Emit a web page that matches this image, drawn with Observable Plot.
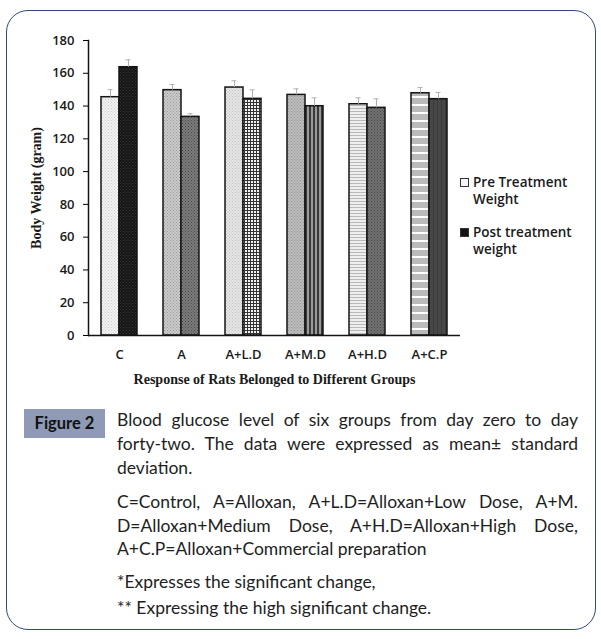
<!DOCTYPE html>
<html>
<head>
<meta charset="utf-8">
<script src="https://cdn.jsdelivr.net/npm/d3@7"></script>
<script src="https://cdn.jsdelivr.net/npm/@observablehq/plot@0.6"></script>
<style>
  html, body { margin: 0; padding: 0; background: #fff; }
  body { width: 601px; height: 639px; position: relative; overflow: hidden; }
  #frame { position: absolute; left: 6px; top: 10px; width: 590px; height: 620px; box-sizing: border-box;
           border: 1.5px solid #2f4a7a; border-radius: 22px; pointer-events: none; z-index: 5; }
  #chart { position: absolute; left: 0; top: 0; }
  #chart svg { background: transparent !important; }
  #chart g[aria-label="y-axis tick label"], #chart g[aria-label="fx-axis tick label"] {
    font-family: "Open Sans", sans-serif; font-size: 13px; font-weight: 600; fill: #1a1a1a; }
  #chart g[aria-label="y-axis label"], #chart g[aria-label="fx-axis label"] {
    font-family: "Liberation Serif", serif; font-size: 14px; font-weight: 700; fill: #1a1a1a; }
  #legend { position: absolute; left: 459px; top: 174px; font-family: "Open Sans", sans-serif;
            font-size: 13.5px; font-weight: 600; color: #1a1a1a; line-height: 17px; }
  .li { position: relative; padding-left: 14px; margin-bottom: 16px; }
  .sw { position: absolute; left: 1px; top: 4px; width: 9px; height: 9px; box-sizing: border-box; border: 1px solid #333; }
  #figlabel { position: absolute; left: 24px; top: 409px; width: 81px; height: 29px; background: #8e9ab6;
              font-family: Lato, sans-serif; font-weight: 700; font-size: 16.5px; color: #111;
              line-height: 29px; text-align: center; }
  #caption { position: absolute; left: 117px; top: 0; width: 461px; font-family: Lato, sans-serif;
             font-size: 17.5px; color: #1e1e1e; }
  .ln { position: absolute; left: 0; width: 461px; white-space: nowrap; line-height: 20px; }
  .j { text-align: justify; text-align-last: justify; }
</style>
</head>
<body>
<div id="frame"></div>
<div id="chart"></div>
<div id="legend"></div>
<div id="figlabel">Figure 2</div>
<div id="caption"></div>
<script>
// ---- data ----
const groups = ["C", "A", "A+L.D", "A+M.D", "A+H.D", "A+C.P"];
const seriesKeys = ["pre", "post"];
const seriesNames = ["Pre Treatment Weight", "Post treatment weight"];
const preMean = [145.4, 149.7, 151.3, 146.8, 141.1, 147.8];
const preSD = [4.6, 3.4, 4.1, 3.7, 3.9, 3.5];
const postMean = [163.7, 133.4, 144.4, 139.9, 138.9, 144.2];
const postSD = [4.5, 1.9, 5.5, 5.1, 5.5, 4.1];
const yTicks = [0, 20, 40, 60, 80, 100, 120, 140, 160, 180];
const yLabel = "Body Weight (gram)";
const xLabel = "Response of Rats Belonged to Different Groups";
const captionLines = [
  "Blood glucose level of six groups from day zero to day",
  "forty-two. The data were expressed as mean\u00b1 standard",
  "deviation.",
  "C=Control, A=Alloxan, A+L.D=Alloxan+Low Dose, A+M.",
  "D=Alloxan+Medium Dose, A+H.D=Alloxan+High Dose,",
  "A+C.P=Alloxan+Commercial preparation",
  "*Expresses the significant change,",
  "** Expressing the high significant change."
];

// ---- table ----
const rows = groups.flatMap((g, i) => [
  {group: g, series: seriesKeys[0], mean: preMean[i], sd: preSD[i]},
  {group: g, series: seriesKeys[1], mean: postMean[i], sd: postSD[i]}
]);
const keyOf = d => d.group + "|" + d.series;

// ---- patterns (styles) ----
function dots(id, bg, fg, s) {
  return `<pattern id="${id}" width="${s}" height="${s}" patternUnits="userSpaceOnUse">
    <rect width="${s}" height="${s}" fill="${bg}"/><rect width="1" height="1" fill="${fg}"/>
    <rect x="${s/2}" y="${s/2}" width="1" height="1" fill="${fg}"/></pattern>`;
}
function hstripes(id, bg, fg, period, lw) {
  return `<pattern id="${id}" width="4" height="${period}" patternUnits="userSpaceOnUse">
    <rect width="4" height="${period}" fill="${bg}"/><rect y="0" width="4" height="${lw}" fill="${fg}"/></pattern>`;
}
function vstripes(id, bg, fg, period, lw) {
  return `<pattern id="${id}" width="${period}" height="4" patternUnits="userSpaceOnUse">
    <rect width="${period}" height="4" fill="${bg}"/><rect x="0" width="${lw}" height="4" fill="${fg}"/></pattern>`;
}
function grid(id, bg, fg, s) {
  return `<pattern id="${id}" width="${s}" height="${s}" patternUnits="userSpaceOnUse">
    <rect width="${s}" height="${s}" fill="${fg}"/><rect x="1" y="1" width="${s-1}" height="${s-1}" fill="${bg}"/></pattern>`;
}
const defs = [
  dots("p0", "#f3f3f3", "#c9c9c9", 3),
  dots("p1", "#141414", "#3a3a3a", 3),
  dots("p2", "#cacaca", "#9a9a9a", 3),
  dots("p3", "#7c7c7c", "#4a4a4a", 3),
  dots("p4", "#e6e6e6", "#c0c0c0", 3),
  grid("p5", "#f2f2f2", "#333333", 3),
  dots("p6", "#bdbdbd", "#939393", 3),
  vstripes("p7", "#9a9a9a", "#3a3a3a", 4, 2),
  hstripes("p8", "#eeeeee", "#b8b8b8", 3, 1),
  dots("p9", "#727272", "#484848", 3),
  hstripes("p10", "#bababa", "#ffffff", 8, 2),
  vstripes("p11", "#474747", "#3b3b3b", 4, 1)
].join("");

const chart = Plot.plot({
  width: 601,
  height: 400,
  marginLeft: 85,
  marginRight: 139,
  marginTop: 40,
  marginBottom: 65,
  fx: {domain: groups, padding: 0, label: null},
  x: {domain: seriesKeys, paddingInner: 0, paddingOuter: 0.7, axis: null},
  y: {domain: [yTicks[0], yTicks[yTicks.length - 1]]},
  color: {type: "ordinal", domain: rows.map(keyOf), range: rows.map((d, i) => `url(#p${i})`)},
  marks: [
    Plot.barY(rows, {fx: "group", x: "series", y: "mean", fill: keyOf, stroke: "#141414", strokeWidth: 1.5}),
    Plot.ruleX(rows, {fx: "group", x: "series", y1: "mean", y2: d => d.mean + d.sd, stroke: "#b0b0b0", strokeWidth: 1}),
    Plot.tickY(rows, {fx: "group", x: "series", y: d => d.mean + d.sd, stroke: "#b0b0b0", strokeWidth: 1, insetLeft: 6.5, insetRight: 6.5}),
    Plot.ruleY([0], {stroke: "#141414", strokeWidth: 1.5}),
    Plot.frame({anchor: "left", facetAnchor: "left", stroke: "#141414", strokeWidth: 1.5}),
    Plot.axisY({ticks: yTicks, tickSize: 5, tickPadding: 9, label: yLabel, labelAnchor: "center", labelArrow: "none", labelOffset: 57}),
    Plot.axisFx({anchor: "bottom", tickSize: 0, tickPadding: 14, label: xLabel, labelAnchor: "center", labelArrow: "none", labelOffset: 48})
  ]
});
chart.insertAdjacentHTML("afterbegin", `<defs>${defs}</defs>`);
document.getElementById("chart").appendChild(chart);

// legend
const legend = document.getElementById("legend");
const swatchFill = ["#f4f4f4", "#141414"];
seriesNames.forEach((name, i) => {
  const words = name.split(" ");
  const first = words.slice(0, -1).join(" ");
  const last = words[words.length - 1];
  const div = document.createElement("div");
  div.className = "li";
  div.innerHTML = `<span class="sw" style="background:${swatchFill[i]}"></span>${first}<br>${last}`;
  legend.appendChild(div);
});

// caption
const cap = document.getElementById("caption");
const baselines = [425, 449, 473, 507, 531, 554, 587, 613];
const justified = [true, true, false, true, true, false, false, false];
captionLines.forEach((t, i) => {
  const d = document.createElement("div");
  d.className = "ln" + (justified[i] ? " j" : "");
  d.style.top = (baselines[i] - 15) + "px";
  d.textContent = t;
  cap.appendChild(d);
});
</script>
</body>
</html>
